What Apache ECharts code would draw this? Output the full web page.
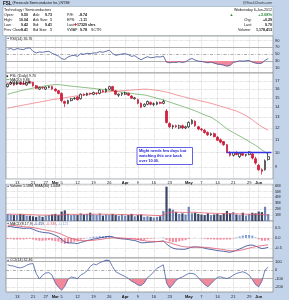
<!DOCTYPE html>
<html><head><meta charset="utf-8">
<script src="https://cdn.jsdelivr.net/npm/echarts/dist/echarts.min.js"></script>
<style>html,body{margin:0;padding:0;background:#c3d3ea}#c{width:289px;height:300px}</style>
</head><body><div id="c"></div>
<script>
const dates = ['2/8','2/9','2/10','2/13','2/14','2/15','2/16','2/17','2/21','2/22','2/23','2/24','2/27','2/28','2/29','3/1','3/2','3/5','3/6','3/7','3/8','3/9','3/12','3/13','3/14','3/15','3/16','3/19','3/20','3/21','3/22','3/23','3/26','3/27','3/28','3/29','3/30','4/2','4/3','4/4','4/5','4/9','4/10','4/11','4/12','4/13','4/16','4/17','4/18','4/19','4/20','4/23','4/24','4/25','4/26','4/27','4/30','5/1','5/2','5/3','5/4','5/7','5/8','5/9','5/10','5/11','5/14','5/15','5/16','5/17','5/18','5/21','5/22','5/23','5/24','5/25','5/29','5/30','5/31','6/1','6/4','6/5','6/6'];
const tickDates = ['2/13','2/21','2/27','3/1','3/5','3/12','3/19','3/26','4/2','4/9','4/16','4/23','5/1','5/7','5/14','5/21','5/29','6/1'];
const tickLabels = ['13','21','27','Mar','5','12','19','26','Apr','9','16','23','May','7','14','21','29','Jun'];
const monthLabels = ['Mar','Apr','May','Jun'];

const opens = [16.3,16.6,16.7,16.6,16.8,16.7,16.5,16.9,16.8,16.4, 16.0,16.2,16.0,16.2,16.3,16.0,15.8,15.5,14.6,14.4, 14.7,14.9,15.1,14.9,15.4,15.3,15.5,15.4,15.5,15.5, 15.8,15.7,16.0,16.3,15.8,15.3,15.4,15.4,15.5,15.2, 14.9,14.8,14.4,14.1,14.3,14.5,14.3,14.3,14.5,14.4, 13.6,12.4,12.1,12.2,12.0,12.2,12.0,12.1,12.4,12.6, 12.1,11.9,11.8,11.6,11.4,11.5,11.2,11.0,10.85,10.6, 10.0,9.8,10.0,9.7,9.95,9.8,9.85,9.9,9.55,9.1, 8.8,8.8,9.50];
const highs = [16.7,16.9,16.8,16.9,16.9,17.0,16.9,17.0,16.9,16.5, 16.3,16.3,16.3,16.4,16.4,16.1,15.9,15.6,14.7,14.8, 15.0,15.1,15.2,15.5,15.5,15.6,15.6,15.7,15.6,16.0, 15.9,16.1,16.4,16.4,15.9,15.5,15.6,15.7,15.6,15.3, 15.1,14.9,14.5,14.4,14.7,14.6,14.5,14.6,14.6,14.8, 13.8,12.5,12.3,12.3,12.3,12.3,12.2,12.6,12.8,12.7, 12.2,12.0,11.9,11.7,11.6,11.6,11.3,11.1,10.9,10.65, 10.1,10.05,10.1,10.0,10.0,9.9,10.1,9.95,9.7,9.2, 8.9,9.5,10.04];
const lows = [16.2,16.5,16.4,16.5,16.5,16.5,16.4,16.7,16.3,16.0, 15.9,16.0,15.9,16.1,15.9,15.7,15.4,14.5,14.0,14.3, 14.6,14.8,14.7,14.8,15.2,15.2,15.3,15.3,15.3,15.4, 15.6,15.6,15.9,15.8,15.3,15.1,15.2,15.3,15.2,14.9, 14.8,14.3,13.9,14.0,14.2,14.2,14.1,14.2,14.3,14.3, 12.4,12.0,11.9,12.0,11.9,11.9,11.9,12.0,12.3,12.1, 11.8,11.7,11.5,11.3,11.3,11.2,10.9,10.7,10.5,9.95, 9.7,9.7,9.8,9.6,9.75,9.7,9.8,9.5,9.15,8.75, 8.5,8.75,9.42];
const closes = [16.6,16.8,16.5,16.8,16.6,16.6,16.8,16.8,16.4,16.1, 16.2,16.15,16.25,16.3,16.0,15.8,15.5,14.7,14.4,14.7, 14.9,14.95,14.8,15.4,15.3,15.5,15.45,15.6,15.5,15.9, 15.7,16.0,16.3,15.85,15.4,15.4,15.5,15.55,15.3,14.95, 15.0,14.4,14.0,14.3,14.6,14.3,14.35,14.5,14.4,14.6, 12.5,12.1,12.2,12.1,12.2,12.0,12.1,12.5,12.7,12.2, 11.9,11.85,11.6,11.4,11.5,11.25,10.95,10.8,10.6,10.0, 9.8,10.0,9.85,9.95,9.8,9.85,10.05,9.6,9.25,8.8, 8.7,9.41,9.70];
const ma20 = [15.4,15.5,15.6,15.7,15.8,15.88,15.96,16.04,16.12,16.2, 16.27,16.33,16.4,16.45,16.5,16.55,16.55,16.5,16.45,16.4, 16.36,16.32,16.28,16.24,16.2,16.16,16.12,16.08,16.04,16.0, 15.95,15.9,15.85,15.8,15.75,15.7,15.65,15.6,15.55,15.5, 15.45,15.4,15.36,15.33,15.25,15.15,15.05,14.95,14.86,14.77, 14.65,14.53,14.42,14.3,14.2,14.08,13.97,13.86,13.75,13.62, 13.48,13.35,13.22,13.1,13.0,12.8,12.6,12.38,12.15,11.93, 11.75,11.6,11.45,11.3,11.15,11.0,10.85,10.7,10.55,10.38, 10.2,10.03,9.86];
const ma50 = [13.9,13.96,14.03,14.09,14.15,14.22,14.28,14.34,14.41,14.47, 14.53,14.6,14.66,14.72,14.79,14.85,14.9,14.96,15.01,15.07, 15.12,15.18,15.23,15.28,15.34,15.39,15.45,15.5,15.55,15.6, 15.63,15.66,15.69,15.72,15.75,15.78,15.8,15.83,15.86,15.89, 15.92,15.95,15.97,16.0,15.98,15.95,15.9,15.85,15.8,15.73, 15.65,15.56,15.45,15.33,15.24,15.15,15.06,14.97,14.88,14.8, 14.72,14.64,14.56,14.48,14.4,14.3,14.2,14.1,14.0,13.9, 13.8,13.7,13.6,13.45,13.3,13.15,12.95,12.75,12.5,12.3, 12.1,11.95,11.8];
const volumeM = [1.2,1.1,1.0,1.0,1.2,1.1,0.9,0.9,0.8,0.7, 0.9,0.7,0.9,1.0,1.1,1.2,1.0,1.6,1.8,1.2, 1.0,1.1,1.0,1.3,1.1,1.2,1.4,1.1,1.0,1.3, 0.9,1.1,1.0,1.2,1.0,0.9,1.1,0.9,1.0,1.2, 0.8,1.0,1.1,0.7,0.8,0.7,0.6,0.7,0.8,1.7, 5.8,2.1,1.9,1.5,1.2,1.3,1.1,2.4,1.3,1.4, 1.2,1.1,1.0,1.3,1.0,1.1,1.2,1.0,1.3,1.7, 1.3,1.5,1.1,1.0,1.4,0.9,1.2,1.4,1.3,1.6, 1.5,2.4,1.18];
const volEma = [1.15,1.15,1.14,1.12,1.12,1.12,1.1,1.08,1.06,1.03, 1.02,1.0,0.99,0.99,1.0,1.02,1.02,1.06,1.12,1.13, 1.12,1.12,1.11,1.13,1.13,1.14,1.16,1.15,1.14,1.15, 1.13,1.13,1.12,1.13,1.12,1.1,1.1,1.08,1.07,1.08, 1.06,1.05,1.06,1.03,1.01,0.98,0.95,0.93,0.92,0.97, 1.35,1.45,1.5,1.5,1.48,1.46,1.43,1.5,1.48,1.47, 1.42,1.4,1.36,1.34,1.31,1.29,1.27,1.25,1.24,1.26, 1.25,1.25,1.22,1.19,1.19,1.15,1.13,1.13,1.12,1.13, 1.1,1.07,1.04];
const rsi = [64,66,62,66,64,63,67,68,58,53, 56,55,57,58,52,48,44,36,34,41, 45,46,43,51,49,52,51,53,53,57, 55,58,61,52,46,48,50,51,48,43, 45,38,33,38,42,39,40,42,41,44, 26,24,26,25,27,25,27,33,37,32, 29,28,26,24,26,23,20,19,17,14, 16,25,27,30,29,30,31,26,23,22, 23,31,36.76];
const macd = [0.56,0.55,0.52,0.50,0.48,0.46,0.47,0.47,0.42,0.35, 0.30,0.27,0.25,0.24,0.19,0.12,0.05,-0.08,-0.20,-0.24, -0.25,-0.26,-0.28,-0.22,-0.18,-0.13,-0.10,-0.06,-0.04,0.00, 0.02,0.06,0.08,0.05,0.00,-0.03,-0.05,-0.06,-0.08,-0.11, -0.13,-0.18,-0.24,-0.24,-0.22,-0.21,-0.20,-0.18,-0.17,-0.15, -0.30,-0.42,-0.50,-0.54,-0.55,-0.56,-0.55,-0.50,-0.45,-0.44, -0.45,-0.47,-0.50,-0.54,-0.56,-0.59,-0.62,-0.64,-0.65,-0.68, -0.70,-0.66,-0.60,-0.54,-0.47,-0.40,-0.36,-0.35,-0.40,-0.47, -0.52,-0.50,-0.459];
const signal = [0.62,0.61,0.60,0.58,0.56,0.54,0.53,0.52,0.50,0.47, 0.44,0.41,0.38,0.35,0.32,0.28,0.23,0.17,0.10,0.03, -0.02,-0.07,-0.11,-0.13,-0.14,-0.14,-0.13,-0.12,-0.10,-0.08, -0.06,-0.03,-0.01,0.00,0.00,0.00,-0.01,-0.02,-0.03,-0.04, -0.06,-0.08,-0.11,-0.14,-0.16,-0.17,-0.17,-0.18,-0.18,-0.17, -0.20,-0.24,-0.29,-0.34,-0.38,-0.42,-0.44,-0.45,-0.45,-0.45, -0.45,-0.45,-0.46,-0.47,-0.49,-0.51,-0.53,-0.55,-0.57,-0.60, -0.62,-0.63,-0.63,-0.61,-0.58,-0.54,-0.50,-0.46,-0.43,-0.40, -0.38,-0.36,-0.338];
const hist = [-0.06,-0.06,-0.08,-0.08,-0.08,-0.08,-0.06,-0.05,-0.08,-0.12, -0.14,-0.14,-0.13,-0.11,-0.13,-0.16,-0.18,-0.25,-0.30,-0.27, -0.23,-0.19,-0.17,-0.09,-0.04,0.01,0.03,0.06,0.06,0.08, 0.08,0.09,0.09,0.05,0.00,-0.03,-0.04,-0.04,-0.05,-0.07, -0.07,-0.10,-0.13,-0.10,-0.06,-0.04,-0.03,0.00,0.01,0.02, -0.10,-0.18,-0.21,-0.20,-0.17,-0.14,-0.11,-0.05,0.00,0.01, 0.00,-0.02,-0.04,-0.07,-0.07,-0.08,-0.09,-0.09,-0.08,-0.08, -0.08,-0.03,0.03,0.07,0.11,0.14,0.14,0.11,0.03,-0.07, -0.14,-0.14,-0.121];
const cci = [60,50,45,30,25,35,55,70,75,-40, -105,-60,-35,-30,-60,-150,-200,-235,-190,-110, -80,-90,-100,-60,-40,-10,40,70,60,85, 100,115,110,40,-20,-40,-60,-75,-100,-130, -150,-175,-180,-150,-90,-60,-20,20,40,60, -150,-210,-170,-120,-95,-80,-60,-40,-40,-50, -90,-130,-170,-195,-160,-120,-85,-80,-90,-100, -85,-60,-40,-30,-20,-35,-60,-110,-170,-195, -130,0,32.46];

const rsiTicks = [90,70,50,30,10];
const priceTicks = [17,16,15,14,13,12,11,10,9];
const volTicks = [1,2,3,4,5,6];
const macdTicks = [0.5,0,-0.5];
const cciTicks = [100,0,-100,-200];
const resistance = {from:'5/17', level:10.0};

const FF = 'Liberation Sans, Arial, sans-serif';
const cats = dates.concat(['']);
const dotted = {type:'dotted', color:'#bcbcbc', width:0.6};
const solid = {type:'solid', color:'#9a9a9a', width:0.8};
const dashdot = {type:[3,1.5,0.8,1.5], color:'#8a8a8a', width:0.7};

function hl(v, text, ls){ return {yAxis:v, lineStyle:ls, label:{show:true, position:'end', distance:2, formatter:text, fontSize:4, color:'#222', fontFamily:FF}}; }
function gridML(hs){ return {silent:true, symbol:['none','none'], z:1, animation:false,
  data: hs.concat(tickDates.map(d=>({xAxis:d, lineStyle:dotted, label:{show:false}})))}; }

const rsiLines = rsiTicks.map(v=>hl(v, String(v), v===70||v===30?solid:(v===50?dashdot:dotted)));
const priceLines = priceTicks.map(v=>hl(v, String(v), dotted));
const volLines = volTicks.map(v=>hl(v, v+'M', dotted));
const macdLines = macdTicks.map(v=>hl(v, v.toFixed(1), dotted));
const cciLines = cciTicks.map(v=>hl(v, String(v), (v===100||v===-100)?solid:(v===0?dashdot:dotted)));

const gridsPx = [[36,37],[73,106],[184,37],[221,37],[258,34]];
const grid = gridsPx.map(([t,h])=>({left:6, right:16, top:t, height:h, show:true, backgroundColor:'#fff', borderColor:'#8e8e8e', borderWidth:0.8, containLabel:false, outerBoundsMode:'none'}));

function xa(k, showLabels){
  return {type:'category', gridIndex:k, data:cats, boundaryGap:true,
    axisLine:{show:false}, axisTick:{show:false}, splitLine:{show:false},
    axisLabel: showLabels ? {show:true, interval:(i,v)=>tickDates.indexOf(v)>=0,
      formatter:(v)=>{const t=tickLabels[tickDates.indexOf(v)]; return monthLabels.indexOf(t)>=0?'{m|'+t+'}':t;},
      margin:k===1?1.5:2.5, fontSize:4, color:'#222', fontFamily:FF,
      rich:{m:{fontSize:4, fontWeight:'bold', color:'#111', fontFamily:FF}}} : {show:false}};
}

const candle = dates.map((d,i)=>[opens[i], closes[i], lows[i], highs[i]]);
const volData = volumeM.map((v,i)=>({value:v, itemStyle:{color: closes[i]>=opens[i] ? '#6d85b4' : '#3b4668'}}));
const histData = hist.map(v=>({value:v, itemStyle:{color: v>=0 ? '#7f9bd4' : '#f28a9e'}}));

const G = [];
function txt(x,y,text,o){ G.push({type:'text', x:x, y:y, z:20, silent:true, style:Object.assign({text:text, fontSize:4, fontFamily:FF, fill:'#111', align:'left', verticalAlign:'middle', textAlign:'left', textVerticalAlign:'middle'}, o||{})}); }
function rtxt(x,y,text,o){ txt(x,y,text,Object.assign({align:'right', textAlign:'right'}, o||{})); }

G.push({type:'rect', z:0, silent:true, shape:{x:3, y:6.5, width:270, height:29}, style:{fill:'#fff', stroke:'#9aa', lineWidth:0.6}});
G.push({type:'rect', z:0, silent:true, shape:{x:6, y:179.5, width:267, height:4.2}, style:{fill:'#fff'}});
txt(3,3.3,'FSL',{fontWeight:'bold', fontSize:4.6});
txt(12.5,3.4,'(Freescale Semiconductor Inc.) NYSE',{fontSize:3.4});
rtxt(272,3.3,'@StockCharts.com',{fontSize:3.4, fill:'#333'});
txt(4,10,'Technology / Semiconductors',{fontSize:3.6});
const rows = [
  [15,'Open:','9.50','Ask:','9.73','P/E:','-8.74'],
  [20,'High:','10.04','Ask Size:','1','EPS:','-1.11'],
  [25,'Low:','9.42','Bid:','9.41','Last:',''],
  [30,'Prev Close:','9.41','Bid Size:','1','VWAP:','9.78']];
rows.forEach(r=>{
  txt(4,r[0],r[1],{fontSize:3.6}); rtxt(28,r[0],r[2],{fontSize:3.6,fontWeight:'bold'});
  txt(33,r[0],r[3],{fontSize:3.6}); rtxt(52,r[0],r[4],{fontSize:3.6,fontWeight:'bold'});
  txt(67,r[0],r[5],{fontSize:3.6}); if(r[6]) rtxt(87,r[0],r[6],{fontSize:3.6,fontWeight:'bold'});
});
txt(73.5,25,'✚',{fontSize:3.6, fill:'#d02030'});
txt(77,25,'17329 shrs',{fontSize:3.6,fontWeight:'bold'});
txt(91,30,'SCTR:',{fontSize:3.6});
rtxt(272,10,'Wednesday 6-Jun-2012',{fontSize:3.6});
txt(229.5,15,'▲',{fontSize:4, fill:'#2a8a3a'});
rtxt(272,15,'+3.08%',{fontSize:4, fill:'#2a8a3a', fontWeight:'bold'});
txt(244,20,'Chg:',{fontSize:3.6}); rtxt(272,20,'+0.29',{fontSize:3.6,fontWeight:'bold'});
txt(244,25,'Last:',{fontSize:3.6}); rtxt(272,25,'9.70',{fontSize:3.6,fontWeight:'bold'});
txt(238,30,'Volume:',{fontSize:3.6}); rtxt(272,30,'1,178,413',{fontSize:3.6,fontWeight:'bold'});

function panelTitle(y, text, o){ txt(6.5,y,'▲',{fontSize:3.2, fill:'#3357b0'}); txt(10,y,text,Object.assign({fontSize:3.6},o||{})); }
panelTitle(38.5,'RSI(14) 36.76');
txt(6.5,76.2,'■',{fontSize:3.2}); txt(10,76.2,'FSL (Daily) 9.70',{fontSize:3.6});
G.push({type:'line', z:20, silent:true, shape:{x1:6.5,y1:79.6,x2:9.5,y2:79.6}, style:{stroke:'#6fae66', lineWidth:1}});
txt(10,79.6,'MA(20) 9.86',{fontSize:3.6});
G.push({type:'line', z:20, silent:true, shape:{x1:6.5,y1:83,x2:9.5,y2:83}, style:{stroke:'#ee7f86', lineWidth:1}});
txt(10,83,'MA(50) 11.80',{fontSize:3.6});
panelTitle(186.3,'Volume 1.18M, EMA(30) 1.04M');
panelTitle(223.6,'{a|MACD(8,17,9)} {b|-0.459}, {c|-0.338}, {d|-0.121}',{rich:{
  a:{fontSize:3.6,fontFamily:FF,fill:'#111',color:'#111'},
  b:{fontSize:3.6,fontFamily:FF,fill:'#2b3f8f',color:'#2b3f8f'},
  c:{fontSize:3.6,fontFamily:FF,fill:'#e05a6e',color:'#e05a6e'},
  d:{fontSize:3.6,fontFamily:FF,fill:'#7f9bd4',color:'#7f9bd4'}}});
panelTitle(260.3,'CCI(14) 32.46');

G.push({type:'rect', z:15, silent:true, shape:{x:137, y:147.5, width:55.5, height:17}, style:{fill:'#fff', stroke:'#3a3ae0', lineWidth:0.8}});
txt(139,151.2,'Might needs few days but',{fill:'#2424d6', fontWeight:'bold', fontSize:3.9});
txt(139,156,'watching this one back',{fill:'#2424d6', fontWeight:'bold', fontSize:3.9});
txt(139,160.8,'over 10.00.',{fill:'#2424d6', fontWeight:'bold', fontSize:3.9});

const transparent = 'rgba(255,255,255,0)';
const pink = '#f2899a';
const option = {
  animation:false,
  backgroundColor:'#c3d3ea',
  grid: grid,
  xAxis: [xa(0,false), xa(1,true), xa(2,false), xa(3,false), xa(4,true)],
  yAxis: [
    {type:'value', gridIndex:0, min:-6, max:103, show:false},
    {type:'log', logBase:10, gridIndex:1, min:8.22, max:18.03, show:false},
    {type:'value', gridIndex:2, min:0, max:6.25, show:false},
    {type:'value', gridIndex:3, min:-0.98, max:0.82, show:false},
    {type:'value', gridIndex:4, min:-256, max:139.5, show:false}
  ],
  visualMap: [
    {type:'piecewise', show:false, seriesIndex:0, dimension:1, pieces:[{lt:30, color:pink},{gte:30, lte:70, color:transparent},{gt:70, color:'#8aa2da'}]},
    {type:'piecewise', show:false, seriesIndex:10, dimension:1, pieces:[{lt:-100, color:pink},{gte:-100, lte:100, color:transparent},{gt:100, color:transparent}]},
    {type:'piecewise', show:false, seriesIndex:11, dimension:1, pieces:[{lt:-100, color:transparent},{gte:-100, lte:100, color:transparent},{gt:100, color:'#6f8fd8'}]}
  ],
  series: [
    {type:'line', xAxisIndex:0, yAxisIndex:0, data:rsi, symbol:'none', silent:true, z:1, lineStyle:{width:0}, areaStyle:{origin:30, opacity:1}},
    {type:'line', xAxisIndex:0, yAxisIndex:0, data:rsi, symbol:'none', silent:true, z:3, lineStyle:{width:0.8, color:'#3d4e96'}, markLine:gridML(rsiLines)},
    {type:'candlestick', xAxisIndex:1, yAxisIndex:1, data:candle, barWidth:2.2, silent:true, z:3,
      itemStyle:{color:'#ffffff', color0:'#d9203f', borderColor:'#1a1a1a', borderColor0:'#c4122f', borderWidth:0.7},
      markLine:gridML(priceLines)},
    {type:'line', xAxisIndex:1, yAxisIndex:1, data:ma20, symbol:'none', silent:true, z:2, lineStyle:{width:0.8, color:'#6fae66'}},
    {type:'line', xAxisIndex:1, yAxisIndex:1, data:ma50, symbol:'none', silent:true, z:2, lineStyle:{width:0.8, color:'#ee7f86'},
      markLine:{silent:true, symbol:['none','none'], z:6, animation:false, label:{show:false},
        lineStyle:{color:'#3434e6', width:1.4, type:'solid'},
        data:[[{coord:[resistance.from, resistance.level]},{coord:[cats.length-1, resistance.level]}]]}},
    {type:'bar', xAxisIndex:2, yAxisIndex:2, data:volData, barWidth:2.2, silent:true, z:2, markLine:gridML(volLines)},
    {type:'line', xAxisIndex:2, yAxisIndex:2, data:volEma, symbol:'none', silent:true, z:3, lineStyle:{width:0.8, color:'#e6606e'}},
    {type:'bar', xAxisIndex:3, yAxisIndex:3, data:histData, barWidth:2, silent:true, z:2, markLine:gridML(macdLines)},
    {type:'line', xAxisIndex:3, yAxisIndex:3, data:macd, symbol:'none', silent:true, z:3, lineStyle:{width:0.8, color:'#2b3f8f'}},
    {type:'line', xAxisIndex:3, yAxisIndex:3, data:signal, symbol:'none', silent:true, z:3, lineStyle:{width:0.8, color:'#e05a6e'}},
    {type:'line', xAxisIndex:4, yAxisIndex:4, data:cci, symbol:'none', silent:true, z:1, lineStyle:{width:0}, areaStyle:{origin:-100, opacity:1}},
    {type:'line', xAxisIndex:4, yAxisIndex:4, data:cci, symbol:'none', silent:true, z:1, lineStyle:{width:0}, areaStyle:{origin:100, opacity:1}},
    {type:'line', xAxisIndex:4, yAxisIndex:4, data:cci, symbol:'none', silent:true, z:3, lineStyle:{width:0.8, color:'#4a5ea8'}, markLine:gridML(cciLines)}
  ],
  graphic: G
};
const chart = echarts.init(document.getElementById('c'));
chart.setOption(option);
</script></body></html>
